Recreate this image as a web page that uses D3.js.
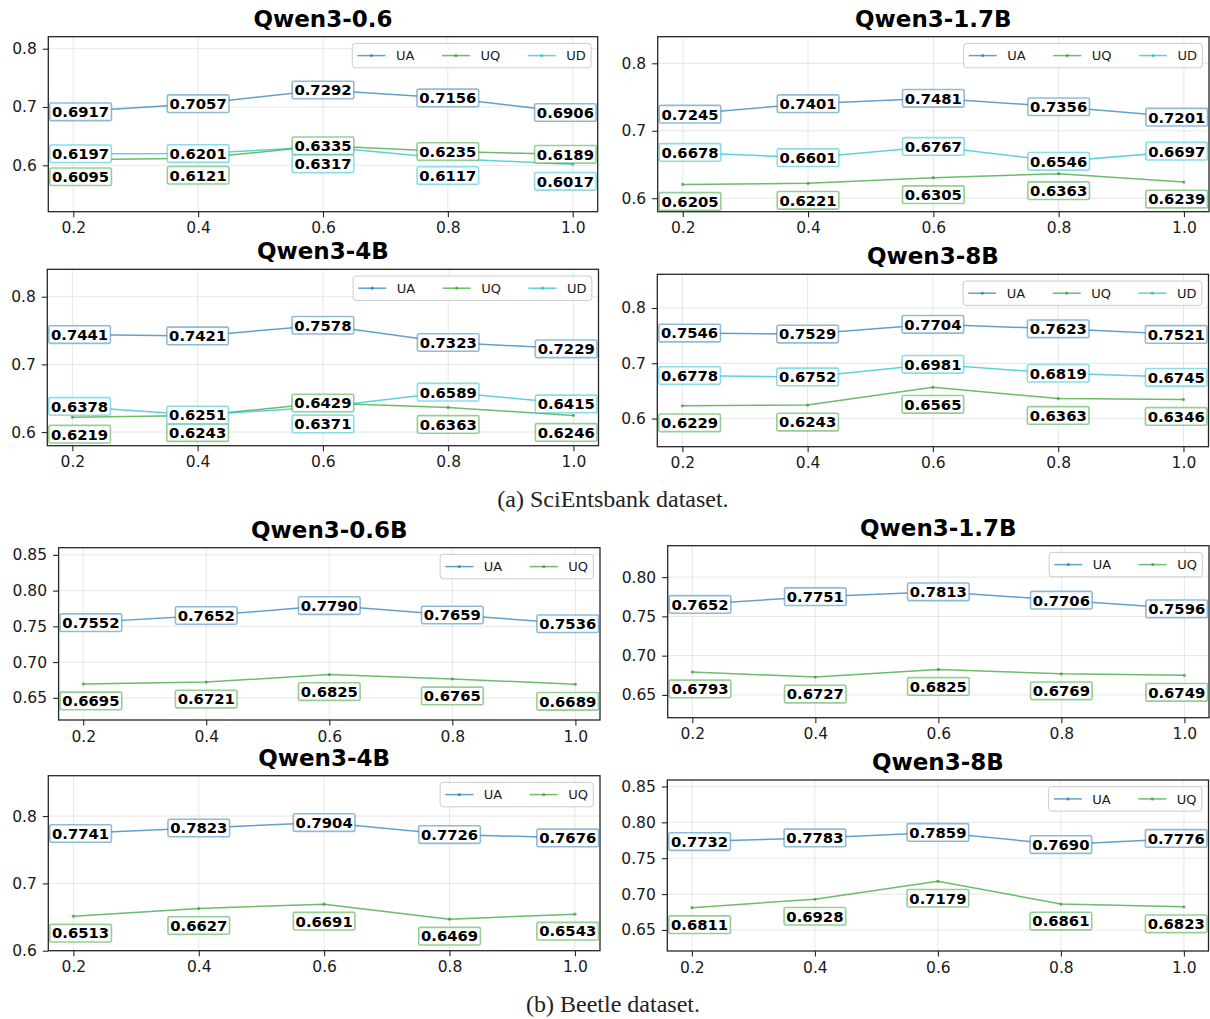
<!DOCTYPE html>
<html>
<head>
<meta charset="utf-8">
<script src="https://d3js.org/d3.v7.min.js"></script>
<style>
  body { margin: 0; background: #fff; }
  text { font-family: "DejaVu Sans", sans-serif; }
  .caption { font-family: "Liberation Serif", "Times New Roman", serif; }
</style>
<title>Qwen3 results</title>
</head>
<body>
<script>
// x values shared by every panel
const xs = [0.2, 0.4, 0.6, 0.8, 1.0];
const seriesNames = ["UA", "UQ", "UD"];
const seriesColors = { UA: "#1f77b4", UQ: "#2ca02c", UD: "#17becf" };

// (a) SciEntsbank
const sci06UA = [0.6917, 0.7057, 0.7292, 0.7156, 0.6906];
const sci06UQ = [0.6095, 0.6121, 0.6335, 0.6235, 0.6189];
const sci06UD = [0.6197, 0.6201, 0.6317, 0.6117, 0.6017];

const sci17UA = [0.7245, 0.7401, 0.7481, 0.7356, 0.7201];
const sci17UQ = [0.6205, 0.6221, 0.6305, 0.6363, 0.6239];
const sci17UD = [0.6678, 0.6601, 0.6767, 0.6546, 0.6697];

const sci4UA = [0.7441, 0.7421, 0.7578, 0.7323, 0.7229];
const sci4UQ = [0.6219, 0.6243, 0.6429, 0.6363, 0.6246];
const sci4UD = [0.6378, 0.6251, 0.6371, 0.6589, 0.6415];

const sci8UA = [0.7546, 0.7529, 0.7704, 0.7623, 0.7521];
const sci8UQ = [0.6229, 0.6243, 0.6565, 0.6363, 0.6346];
const sci8UD = [0.6778, 0.6752, 0.6981, 0.6819, 0.6745];

// (b) Beetle
const bee06UA = [0.7552, 0.7652, 0.7790, 0.7659, 0.7536];
const bee06UQ = [0.6695, 0.6721, 0.6825, 0.6765, 0.6689];

const bee17UA = [0.7652, 0.7751, 0.7813, 0.7706, 0.7596];
const bee17UQ = [0.6793, 0.6727, 0.6825, 0.6769, 0.6749];

const bee4UA = [0.7741, 0.7823, 0.7904, 0.7726, 0.7676];
const bee4UQ = [0.6513, 0.6627, 0.6691, 0.6469, 0.6543];

const bee8UA = [0.7732, 0.7783, 0.7859, 0.7690, 0.7776];
const bee8UQ = [0.6811, 0.6928, 0.7179, 0.6861, 0.6823];

const ticksTenth = [0.6, 0.7, 0.8];
const ticksTwentieth = [0.65, 0.70, 0.75, 0.80, 0.85];

// panel boxes (pixels) and axis limits
const panels = [
  { title: "Qwen3-0.6", data: { UA: sci06UA, UQ: sci06UQ, UD: sci06UD },
    left: 48.3, right: 597.7, top: 36.7, bottom: 211.7, yDomain: [0.5204, 0.8206], yTicks: ticksTenth, fmt: ".1f" },
  { title: "Qwen3-1.7B", data: { UA: sci17UA, UQ: sci17UQ, UD: sci17UD },
    left: 657.7, right: 1209, top: 36.7, bottom: 211.7, yDomain: [0.580, 0.8394], yTicks: ticksTenth, fmt: ".1f" },
  { title: "Qwen3-4B", data: { UA: sci4UA, UQ: sci4UQ, UD: sci4UD },
    left: 47.3, right: 598.5, top: 269.3, bottom: 445.7, yDomain: [0.5798, 0.8405], yTicks: ticksTenth, fmt: ".1f" },
  { title: "Qwen3-8B", data: { UA: sci8UA, UQ: sci8UQ, UD: sci8UD },
    left: 657.3, right: 1208.5, top: 274.3, bottom: 446.7, yDomain: [0.549, 0.861], yTicks: ticksTenth, fmt: ".1f" },
  { title: "Qwen3-0.6B", data: { UA: bee06UA, UQ: bee06UQ },
    left: 58.6, right: 600, top: 547.7, bottom: 720, yDomain: [0.619, 0.860], yTicks: ticksTwentieth, fmt: ".2f" },
  { title: "Qwen3-1.7B", data: { UA: bee17UA, UQ: bee17UQ },
    left: 667.7, right: 1209, top: 545.7, bottom: 717.7, yDomain: [0.621, 0.840], yTicks: ticksTwentieth.slice(0, 4), fmt: ".2f" },
  { title: "Qwen3-4B", data: { UA: bee4UA, UQ: bee4UQ },
    left: 48.3, right: 600, top: 775.7, bottom: 950.7, yDomain: [0.600, 0.860], yTicks: ticksTenth, fmt: ".1f" },
  { title: "Qwen3-8B", data: { UA: bee8UA, UQ: bee8UQ },
    left: 667.3, right: 1208.5, top: 780, bottom: 951, yDomain: [0.6207, 0.859], yTicks: ticksTwentieth, fmt: ".2f" }
];

const svg = d3.select("body").append("svg")
  .attr("width", 1210).attr("height", 1019);

function drawPanel(p) {
  const x = d3.scaleLinear().domain([0.16, 1.04]).range([p.left, p.right]);
  const y = d3.scaleLinear().domain(p.yDomain).range([p.bottom, p.top]);
  const names = seriesNames.filter(n => p.data[n]);
  const g = svg.append("g");

  // grid
  g.append("g").selectAll("line").data(xs).join("line")
    .attr("x1", d => x(d)).attr("x2", d => x(d))
    .attr("y1", p.top).attr("y2", p.bottom)
    .attr("stroke", "#b0b0b0").attr("stroke-opacity", 0.3).attr("stroke-width", 1);
  g.append("g").selectAll("line").data(p.yTicks).join("line")
    .attr("x1", p.left).attr("x2", p.right)
    .attr("y1", d => y(d)).attr("y2", d => y(d))
    .attr("stroke", "#b0b0b0").attr("stroke-opacity", 0.3).attr("stroke-width", 1);

  // axes
  const ax = g.append("g").attr("transform", "translate(0," + p.bottom + ")")
    .call(d3.axisBottom(x).tickValues(xs).tickFormat(d3.format(".1f"))
      .tickSize(5.5).tickSizeOuter(0).tickPadding(5));
  const ay = g.append("g").attr("transform", "translate(" + p.left + ",0)")
    .call(d3.axisLeft(y).tickValues(p.yTicks).tickFormat(d3.format(p.fmt))
      .tickSize(5.5).tickSizeOuter(0).tickPadding(6));
  [ax, ay].forEach(a => {
    a.select(".domain").remove();
    a.selectAll(".tick line").attr("stroke", "#262626").attr("stroke-width", 1.1);
    a.selectAll(".tick text").attr("fill", "#1a1a1a").style("font-size", "15.5px")
      .style("font-family", "DejaVu Sans");
  });

  // frame
  g.append("rect")
    .attr("x", p.left).attr("y", p.top)
    .attr("width", p.right - p.left).attr("height", p.bottom - p.top)
    .attr("fill", "none").attr("stroke", "#262626").attr("stroke-width", 1.3);

  // lines and markers
  const line = d3.line().x((d, i) => x(xs[i])).y(d => y(d));
  names.forEach(n => {
    g.append("path").datum(p.data[n])
      .attr("d", line).attr("fill", "none")
      .attr("stroke", seriesColors[n]).attr("stroke-opacity", 0.7).attr("stroke-width", 1.5);
    g.append("g").selectAll("circle").data(p.data[n]).join("circle")
      .attr("cx", (d, i) => x(xs[i])).attr("cy", d => y(d)).attr("r", 1.6)
      .attr("fill", seriesColors[n]).attr("fill-opacity", 0.7);
  });

  // value labels: the lowest series at each x is pushed below its point,
  // and boxes are kept inside the axes frame
  const labels = [];
  xs.forEach((xv, i) => {
    const lowest = d3.least(names, n => p.data[n][i]);
    names.forEach(n => {
      labels.push({ name: n, x: xv, v: p.data[n][i], shift: n === lowest ? 17 : 0 });
    });
  });
  const lg = g.append("g").selectAll("g").data(labels).join("g");
  lg.append("rect");
  lg.append("text")
    .attr("text-anchor", "middle").attr("dy", "0.36em")
    .style("font-size", "14.8px").style("font-weight", "bold").attr("fill", "#000")
    .text(d => d.v.toFixed(4));
  lg.each(function(d) {
    const t = d3.select(this).select("text");
    const w = t.node().getComputedTextLength() + 4.5;
    const cx = Math.max(p.left + w / 2 + 1.5, Math.min(p.right - w / 2 - 1.5, x(d.x)));
    d3.select(this).attr("transform", "translate(" + cx + "," + (y(d.v) + d.shift) + ")");
    d3.select(this).select("rect")
      .attr("x", -w / 2).attr("y", -8.8).attr("width", w).attr("height", 17.6)
      .attr("rx", 1.5)
      .attr("fill", "#fff")
      .attr("stroke", seriesColors[d.name]).attr("stroke-opacity", 0.5)
      .attr("stroke-width", 1.6);
  });

  // legend (upper right)
  const leg = g.append("g");
  const legBox = leg.append("rect");
  let cx = 0;
  const items = [];
  names.forEach((n, k) => {
    const it = leg.append("g");
    it.append("line").attr("x1", 0).attr("x2", 28).attr("y1", 0).attr("y2", 0)
      .attr("stroke", seriesColors[n]).attr("stroke-opacity", 0.7).attr("stroke-width", 1.5);
    it.append("circle").attr("cx", 14).attr("cy", 0).attr("r", 1.6)
      .attr("fill", seriesColors[n]).attr("fill-opacity", 0.7);
    const t = it.append("text").attr("x", 38.5).attr("dy", "0.36em")
      .style("font-size", "13px").attr("fill", "#1a1a1a").text(n);
    it.attr("transform", "translate(" + cx + ",0)");
    cx += 38.5 + t.node().getComputedTextLength() + (k < names.length - 1 ? 27.5 : 0);
    items.push(it);
  });
  const legW = cx + 10.5, legH = 24.4;
  const legX = p.right - 6.7 - legW, legY = p.top + 6.7;
  legBox.attr("x", 0).attr("y", 0).attr("width", legW).attr("height", legH)
    .attr("rx", 3).attr("fill", "#fff").attr("fill-opacity", 0.8)
    .attr("stroke", "#cccccc").attr("stroke-width", 1);
  items.forEach(it => {
    const tr = it.attr("transform").match(/translate\(([-\d.]+)/)[1];
    it.attr("transform", "translate(" + (+tr + 5.2) + "," + legH / 2 + ")");
  });
  leg.attr("transform", "translate(" + legX + "," + legY + ")");

  // title
  g.append("text")
    .attr("x", (p.left + p.right) / 2).attr("y", p.top - 10)
    .attr("text-anchor", "middle")
    .style("font-size", "23px").style("font-weight", "bold").attr("fill", "#000")
    .text(p.title);
}

panels.forEach(drawPanel);

// captions
svg.append("text").attr("class", "caption")
  .attr("x", 613).attr("y", 507).attr("text-anchor", "middle")
  .style("font-size", "24px").attr("fill", "#222")
  .text("(a) SciEntsbank dataset.");
svg.append("text").attr("class", "caption")
  .attr("x", 613).attr("y", 1012).attr("text-anchor", "middle")
  .style("font-size", "24px").attr("fill", "#222")
  .text("(b) Beetle dataset.");
</script>
</body>
</html>
